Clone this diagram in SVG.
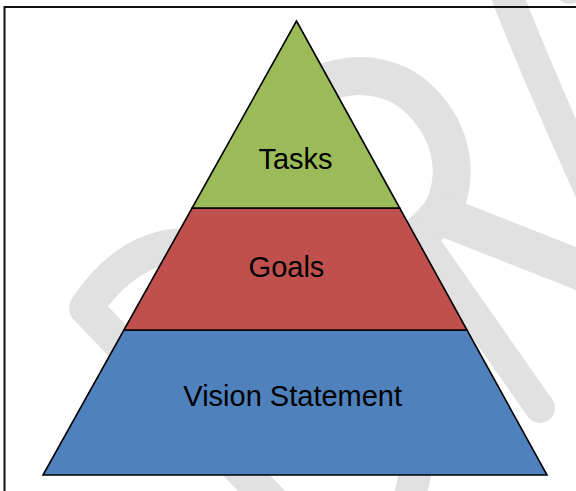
<svg xmlns="http://www.w3.org/2000/svg" width="576" height="491" viewBox="0 0 576 491">
  <style>
    .wm { fill: none; stroke: #e1e1e1; stroke-linecap: round; stroke-linejoin: round; }
    .band { stroke: #000; stroke-width: 1.6; stroke-linejoin: miter; }
    .lbl { font-family: "Liberation Sans", Arial, sans-serif; font-size: 29px; fill: #000; text-anchor: middle; }
  </style>
  <rect x="0" y="0" width="576" height="491" fill="#fff"/>
  <g id="watermark">
    <path class="wm" stroke-width="34" d="M 185,245 C 140,246 108,275 86,308 L 275,505"/>
    <path class="wm" stroke-width="38" d="M 290,110 C 310,75 380,60 420,100 C 455,135 460,180 440,215 L 420,235"/>
    <path class="wm" stroke-width="40" d="M 440,215 L 600,278"/>
    <path class="wm" stroke-width="30" d="M 428,248 L 540,408"/>
    <path class="wm" stroke-width="32" d="M 437,380 L 408,505"/>
    <path class="wm" stroke-width="32" d="M 503,-15 C 520,30 545,90 590,190"/>
    <path class="wm" stroke-width="32" d="M 575,-25 L 570,-12"/>
  </g>
  <rect id="frame" x="4.5" y="7" width="640" height="560" fill="none" stroke="#111" stroke-width="2"/>
  <g id="vision">
    <polygon class="band" fill="#4F81BD" points="123.9,330 467,330 547,475 43,475"/>
    <text class="lbl" x="292.7" y="406">Vision Statement</text>
  </g>
  <g id="goals">
    <polygon class="band" fill="#C0504D" points="192.1,208 399.7,208 467,330 123.9,330"/>
    <text class="lbl" x="286.5" y="277">Goals</text>
  </g>
  <g id="tasks">
    <polygon class="band" fill="#9BBB59" points="296.5,21 399.7,208 192.1,208"/>
    <text class="lbl" x="295.5" y="169">Tasks</text>
  </g>
  <g id="connectors"/>
</svg>
